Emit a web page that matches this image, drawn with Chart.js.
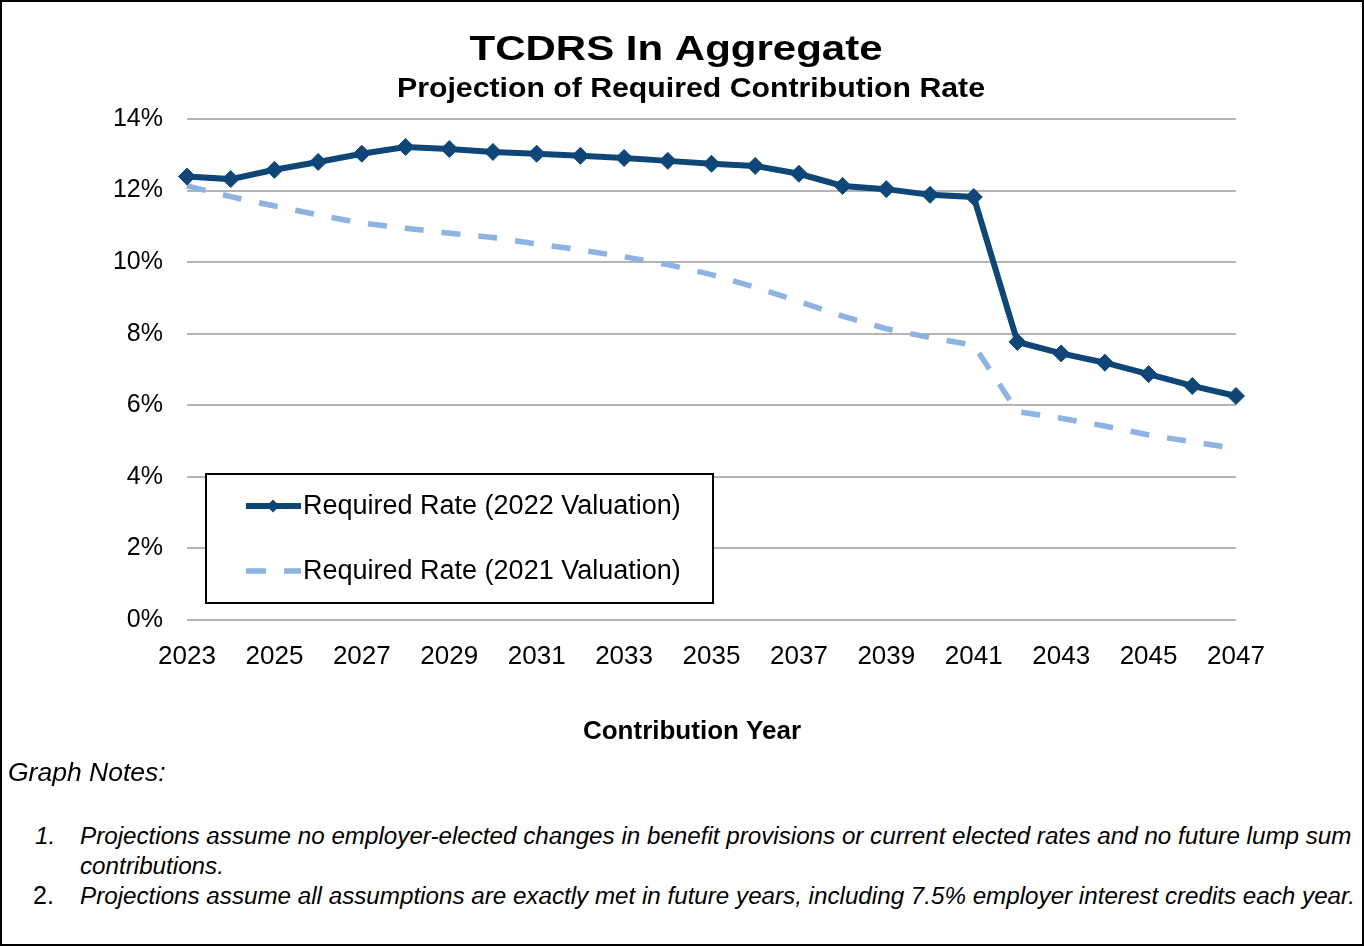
<!DOCTYPE html>
<html><head><meta charset="utf-8">
<script src="https://cdn.jsdelivr.net/npm/chart.js@4.4.1/dist/chart.umd.min.js"></script>
<style>
html,body{margin:0;padding:0;background:#fff;}
#frame{position:absolute;left:0;top:0;width:1364px;height:946px;box-sizing:border-box;border:2px solid #000;}
#c{position:absolute;left:0;top:0;}
.note{position:absolute;font-family:"Liberation Sans",Arial,sans-serif;font-style:italic;font-size:24.2px;line-height:28px;color:#000;white-space:nowrap;}
.num2{font-style:normal;font-size:25px;}
</style></head>
<body>
<div id="frame"></div>
<canvas id="c" width="1364" height="760"></canvas>
<div class="note" style="left:8px;top:758px;font-size:26.5px;">Graph Notes:</div>
<div class="note" style="left:35px;top:822px;">1.</div>
<div class="note" style="left:80px;top:822px;">Projections assume no employer-elected changes in benefit provisions or current elected rates and no future lump sum</div>
<div class="note" style="left:80px;top:852px;">contributions.</div>
<div class="note num2" style="left:33px;top:881px;">2.</div>
<div class="note" style="left:80px;top:882px;">Projections assume all assumptions are exactly met in future years, including 7.5% employer interest credits each year.</div>
<script>
const years = ['2023','2024','2025','2026','2027','2028','2029','2030','2031','2032','2033','2034','2035','2036','2037','2038','2039','2040','2041','2042','2043','2044','2045','2046','2047'];
const rate2022 = [12.39,12.32,12.58,12.80,13.03,13.22,13.16,13.08,13.03,12.97,12.91,12.83,12.75,12.69,12.47,12.13,12.04,11.88,11.82,7.77,7.45,7.19,6.87,6.54,6.26];
const rate2021 = [12.13,11.83,11.57,11.32,11.09,10.95,10.81,10.69,10.51,10.34,10.15,9.93,9.65,9.30,8.90,8.49,8.14,7.89,7.68,5.82,5.64,5.42,5.17,4.98,4.79];
const seriesNames = ['Required Rate (2022 Valuation)','Required Rate (2021 Valuation)'];
const yTicks = [0,2,4,6,8,10,12,14];
const titleText = 'TCDRS In Aggregate';
const subtitleText = 'Projection of Required Contribution Rate';
const xAxisTitle = 'Contribution Year';

const FONT = '"Liberation Sans", Arial, sans-serif';
const darkBlue = '#0e4677';
const lightBlue = '#8db3e2';

function stretchedText(ctx, text, cx, y, sx){
  ctx.save();
  ctx.translate(cx, y);
  ctx.scale(sx, 1);
  ctx.fillText(text, 0, 0);
  ctx.restore();
}

const titlePlugin = {
  id:'titles',
  afterDraw(chart){
    const ctx = chart.ctx;
    ctx.save();
    ctx.fillStyle = '#000';
    ctx.textAlign = 'center';
    ctx.textBaseline = 'alphabetic';
    ctx.font = 'bold 35px ' + FONT;
    stretchedText(ctx, titleText, 676, 60, 1.2);
    ctx.font = 'bold 27px ' + FONT;
    stretchedText(ctx, subtitleText, 691, 97, 1.12);
    ctx.font = 'bold 26px ' + FONT;
    ctx.textBaseline = 'middle';
    ctx.fillText(xAxisTitle, 692, 732);
    ctx.restore();
  }
};

const legendPlugin = {
  id:'boxLegend',
  afterDatasetsDraw(chart){
    const ctx = chart.ctx;
    const x0 = 206, y0 = 474, w = 507, h = 129;
    ctx.save();
    ctx.fillStyle = '#fff';
    ctx.fillRect(x0, y0, w, h);
    ctx.strokeStyle = '#000';
    ctx.lineWidth = 2;
    ctx.strokeRect(x0, y0, w, h);
    const rows = [506, 571];
    chart.data.datasets.forEach((ds, i) => {
      const y = rows[i];
      ctx.save();
      ctx.strokeStyle = ds.borderColor;
      ctx.lineWidth = ds.borderWidth;
      ctx.setLineDash(i === 1 ? [20, 18] : []);
      ctx.beginPath();
      ctx.moveTo(246, y);
      ctx.lineTo(301, y);
      ctx.stroke();
      ctx.restore();
      if (ds.pointRadius > 0) {
        ctx.save();
        ctx.fillStyle = ds.pointBackgroundColor;
        ctx.translate(273, y);
        ctx.rotate(Math.PI/4);
        const s = ds.pointRadius * 1.1;
        ctx.fillRect(-s/2, -s/2, s, s);
        ctx.restore();
      }
      ctx.fillStyle = '#000';
      ctx.font = '27px ' + FONT;
      ctx.textAlign = 'left';
      ctx.textBaseline = 'middle';
      ctx.fillText(ds.label, 303, y + 1);
    });
    ctx.restore();
  }
};

new Chart(document.getElementById('c'), {
  type:'line',
  data:{
    labels: years,
    datasets:[
      {label: seriesNames[0], data: rate2022, borderColor: darkBlue, backgroundColor: darkBlue,
       borderWidth: 6, pointStyle:'rectRot', pointRadius: 8.5, pointBackgroundColor: darkBlue,
       pointBorderColor: darkBlue, pointBorderWidth: 1, tension: 0, order: 0},
      {label: seriesNames[1], data: rate2021, borderColor: lightBlue, backgroundColor: lightBlue,
       borderWidth: 5.5, borderDash:[19,18], pointRadius: 0, tension: 0, order: 1}
    ]
  },
  options:{
    responsive:false,
    animation:false,
    layout:{padding:{top:119, right:128, left:0, bottom:12}},
    plugins:{legend:{display:false}, tooltip:{enabled:false}, title:{display:false}},
    scales:{
      x:{
        type:'category',
        offset:false,
        grid:{display:false, drawTicks:false},
        border:{display:false},
        ticks:{autoSkip:false, maxRotation:0, padding:21, color:'#000', font:{family:FONT, size:26},
               callback(v, i){ return i % 2 === 0 ? years[i] : ''; }},
        title:{display:false},
        afterFit(s){ s.height = 128; }
      },
      y:{
        min:0, max:14,
        afterBuildTicks(s){ s.ticks = yTicks.map(v => ({value:v})); },
        grid:{color:'#b4b4b4', lineWidth:2, drawTicks:false},
        border:{display:false},
        ticks:{padding:24, color:'#000', font:{family:FONT, size:25}, callback(v){ return v + '%'; }},
        afterFit(s){ s.width = 187; }
      }
    }
  },
  plugins:[titlePlugin, legendPlugin]
});
</script>
</body></html>
